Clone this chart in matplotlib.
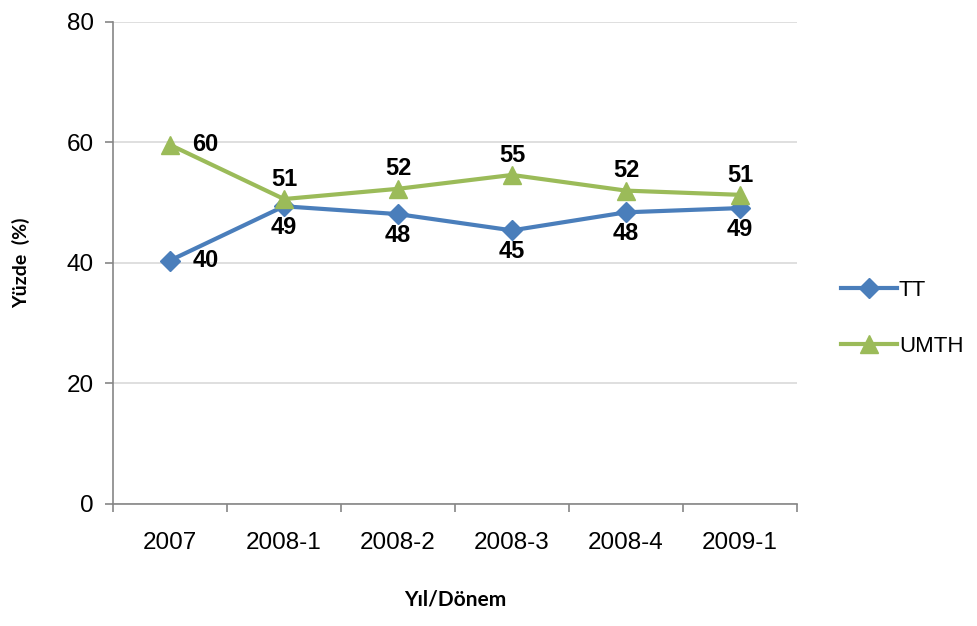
import matplotlib.pyplot as plt
import numpy as np

# series values per period
periods = ['2007', '2008-1', '2008-2', '2008-3', '2008-4', '2009-1']
tt = [40.4, 49.4, 48.1, 45.4, 48.4, 49.1]
umth = [59.6, 50.6, 52.3, 54.6, 52.0, 51.3]

blue = '#4A7EBB'
green = '#9BBB59'
axis_gray = '#868686'

plt.rcParams['font.family'] = ['Liberation Sans', 'DejaVu Sans']

fig = plt.figure(figsize=(9.78, 6.26), dpi=100)
ax = fig.add_axes([0.1155, 0.195, 0.6995, 0.77])

x = np.arange(len(periods))
ax.plot(x, tt, color=blue, lw=3, marker='D', markersize=10, label='TT', zorder=3)
ax.plot(x, umth, color=green, lw=3, marker='^', markersize=13, label='UMTH', zorder=4)

# data labels
for i, (a, b) in enumerate(zip(tt, umth)):
    if i == 0:
        ax.annotate(f'{a:.0f}', (i, a), xytext=(16, 0), textcoords='offset points',
                    ha='left', va='center', fontsize=17, fontweight='bold')
        ax.annotate(f'{b:.0f}', (i, b), xytext=(16, 0), textcoords='offset points',
                    ha='left', va='center', fontsize=17, fontweight='bold')
    else:
        ax.annotate(f'{a:.0f}', (i, a), xytext=(0, -7), textcoords='offset points',
                    ha='center', va='top', fontsize=17, fontweight='bold')
        ax.annotate(f'{b:.0f}', (i, b), xytext=(0, 6), textcoords='offset points',
                    ha='center', va='bottom', fontsize=17, fontweight='bold')

ax.set_xlim(-0.5, len(periods) - 0.5)
ax.set_ylim(0, 80)
ax.set_yticks([0, 20, 40, 60, 80])
ax.set_xticks(x)
ax.set_xticklabels(periods)
ax.set_xticks(np.arange(-0.5, len(periods)), minor=True)
ax.tick_params(axis='x', which='major', length=0, pad=20, labelsize=17.5)
ax.tick_params(axis='x', which='minor', length=6, color=axis_gray, width=1.2)
ax.tick_params(axis='y', length=6, color=axis_gray, width=1.2, labelsize=17.5, pad=8)

ax.grid(axis='y', color='#D9D9D9', lw=1.2)
ax.set_axisbelow(True)
for side in ['top', 'right']:
    ax.spines[side].set_visible(False)
for side in ['left', 'bottom']:
    ax.spines[side].set_color(axis_gray)
    ax.spines[side].set_linewidth(1.2)

ax.set_ylabel('Yüzde  (%)', family=['Lato', 'DejaVu Sans'], fontweight='bold',
              fontsize=14, labelpad=26)
ax.set_xlabel('Yıl/Dönem', family=['Lato', 'DejaVu Sans'], fontweight='bold',
              fontsize=15, labelpad=26)

ax.legend(loc='center left', bbox_to_anchor=(1.035, 0.385), frameon=False,
          fontsize=16, handlelength=2.5, labelspacing=1.6, handletextpad=0.1)

plt.savefig('out.png', dpi=100)
